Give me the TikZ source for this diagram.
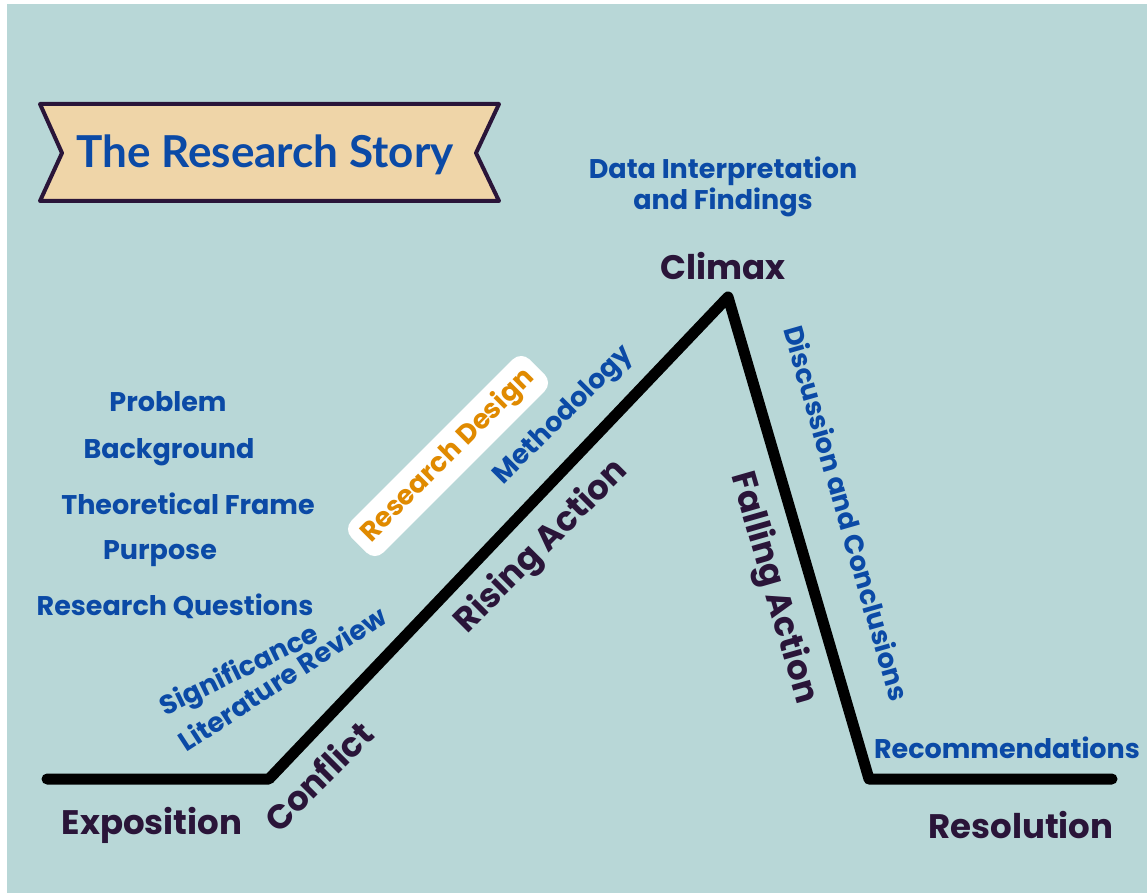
\documentclass[tikz,border=0pt]{standalone}
\usepackage{fontspec}
\setmainfont{Poppins}
\newfontfamily\titlefont{Lato}

\definecolor{bgteal}{HTML}{B8D7D7}
\definecolor{partblue}{HTML}{0B4AA6}
\definecolor{stagedark}{HTML}{2A1539}
\definecolor{designorange}{HTML}{E08A00}
\definecolor{bannerfill}{HTML}{EFD5A8}

\begin{document}
\begin{tikzpicture}[x=1pt,y=-1pt,
  stage/.style={text=stagedark, font=\bfseries\fontsize{34}{40}\selectfont},
  part/.style={text=partblue, font=\bfseries\fontsize{27}{31}\selectfont},
  designbox/.style={fill=white, rounded corners=12pt, text=designorange,
    inner xsep=10pt, inner ysep=8pt, font=\bfseries\fontsize{27}{31}\selectfont},
  plotline/.style={line width=11pt, line cap=round, line join=round}]
\useasboundingbox (0,0) rectangle (1147,893);
\fill[bgteal] (7,4) rectangle (1147,893);

% banner
\draw[stagedark, line width=4pt, fill=bannerfill, line join=round]
  (40,104) -- (499,104) -- (476,153) -- (499,201) -- (40,201) -- (62,153) -- cycle;
\node[text=partblue, font=\titlefont\bfseries\fontsize{44}{50}\selectfont] (title) at (265,155) {The Research Story};

% plot line
\coordinate (start) at (47,779);
\coordinate (risebase) at (269,779);
\coordinate (peak) at (728,297);
\coordinate (fallbase) at (869,779);
\coordinate (finish) at (1112,779);
\draw[plotline] (start) -- (risebase) -- (peak) -- (fallbase) -- (finish);

% parts of the research
\node[part] (problem) at (168,402) {Problem};
\node[part] (background) at (169,452) {Background};
\node[part] (frame) at (188,504) {Theoretical Frame};
\node[part] (purpose) at (160,554) {Purpose};
\node[part] (questions) at (175,606) {Research Questions};
\node[part, rotate=26] (significance) at (240,672) {Significance};
\node[part, rotate=33] (litreview) at (282,678) {Literature Review};
\node[designbox, rotate=45] (design) at (448,456) {Research Design};
\node[part, rotate=45] (method) at (564,416) {Methodology};
\node[part, align=center] (findings) at (723,187) {Data Interpretation\\and Findings};
\node[part, rotate=-74] (discussion) at (847,513) {Discussion and Conclusions};
\node[part] (recommend) at (1007,748) {Recommendations};

% stages of the story
\node[stage] (exposition) at (152,825) {Exposition};
\node[stage, rotate=45] (conflict) at (318,776) {Conflict};
\node[stage, rotate=45] (rising) at (542,547) {Rising Action};
\node[stage] (climax) at (723,266) {Climax};
\node[stage, rotate=-74] (falling) at (773,588) {Falling Action};
\node[stage] (resolution) at (1021,825) {Resolution};
\end{tikzpicture}
\end{document}
